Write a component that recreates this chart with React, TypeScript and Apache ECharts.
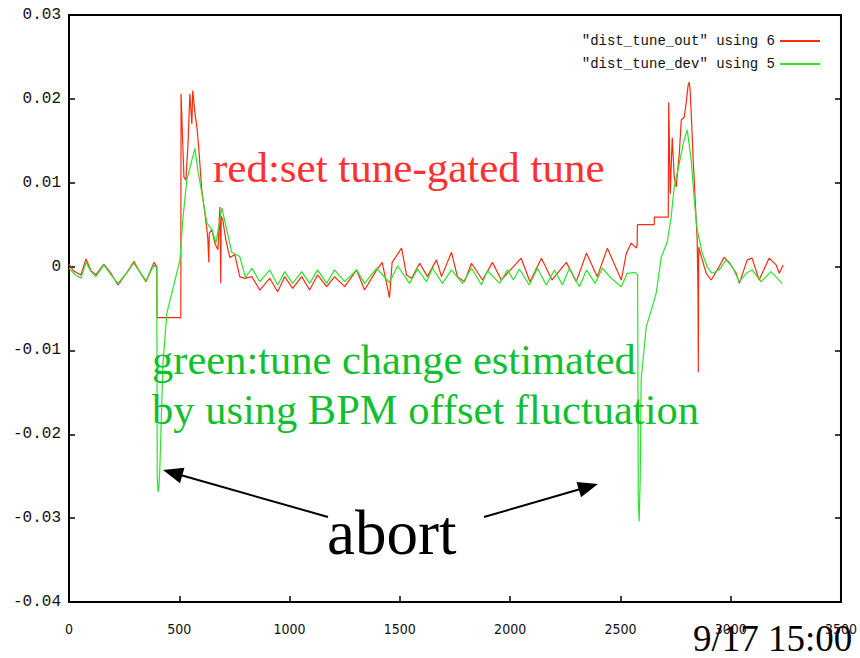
import React, { useEffect, useRef } from "react";
import * as echarts from "echarts";

// dist_tune_out (column 6) — red
const redX = [
  0, 20, 54, 77, 100, 122, 158, 190, 222, 260, 294, 320, 349, 385, 398, 399, 507, 508,
  521, 530, 539, 548, 557, 561, 571, 580, 589, 602, 616, 629, 634, 636, 648, 661, 675,
  684, 688, 690, 697, 711, 729, 752, 774, 797, 829, 865, 910, 946, 978, 1014, 1055, 1091,
  1127, 1168, 1204, 1250, 1304, 1340, 1395, 1420, 1453, 1465, 1508, 1530, 1553, 1590,
  1625, 1666, 1689, 1734, 1761, 1793, 1825, 1875, 1920, 1960, 2050, 2090, 2142, 2190,
  2255, 2300, 2346, 2395, 2441, 2504, 2527, 2549, 2572, 2576, 2577, 2653, 2654, 2717,
  2719, 2726, 2735, 2744, 2753, 2767, 2776, 2789, 2798, 2807, 2812, 2816, 2821, 2830,
  2839, 2848, 2852, 2853, 2855, 2871, 2889, 2912, 2948, 2970, 2993, 3025, 3039, 3075,
  3097, 3129, 3174, 3206, 3220, 3238,
];
const redY = [
  0.0003, -0.0005, -0.001, 0.0009, -0.0005, -0.001, 0.0003, -0.0008, -0.0022, -0.0008,
  0.0006, -0.0006, -0.0018, 0.0005, 0.0, -0.0061, -0.0061, 0.0206,
  0.0107, 0.0103, 0.0143, 0.0206, 0.017, 0.021, 0.0183, 0.0166, 0.0139, 0.0091, 0.0064,
  0.0035, 0.0005, 0.004, 0.0044, 0.0028, 0.002,
  0.0071, -0.002, 0.006, 0.0056, 0.0032, 0.0011, 0.0014, -0.0012, -0.0014, -0.0012,
  -0.0028, -0.0014, -0.003, -0.0012, -0.0026, -0.0012, -0.0028,
  -0.001, -0.0024, -0.0012, -0.0024, -0.0004, -0.0028, -0.0004, 0.0005, -0.0037, 0.0005,
  0.0022, -0.001, -0.0014, 0.0004,
  -0.0012, 0.0008, -0.0012, 0.0017, -0.0012, -0.0018, 0.0004, -0.0016, 0.0005, -0.0016,
  0.001, -0.0018, 0.001, -0.0016,
  0.0005, -0.0018, 0.0016, -0.0012, 0.0022, -0.0016, 0.0016, 0.0028, 0.0022, 0.0026,
  0.005, 0.005, 0.0059, 0.0059,
  0.0196, 0.0087, 0.0154, 0.0107, 0.0095, 0.0135, 0.0175, 0.0178, 0.0195, 0.0216, 0.022,
  0.0211, 0.0183, 0.0127,
  0.0079, 0.0032, -0.0036, -0.0126, 0.0023, 0.0008, -0.0008, -0.0016, 0.0, 0.0011,
  0.0005, -0.0008, -0.002, 0.0008,
  0.001, -0.0016, 0.001, 0.0002, -0.0008, 0.0002,
];

// dist_tune_dev (column 5) — green
const greenX = [
  0, 30, 54, 77, 100, 122, 158, 190, 222, 260, 294, 320, 349, 385, 398, 400, 404, 408,
  412, 426, 444, 466, 503, 516, 534, 557, 571, 584, 602, 625, 648, 666, 693, 715, 738,
  774, 800, 829, 865, 910, 946, 978, 1014, 1055, 1091, 1127, 1168, 1204, 1250, 1304,
  1340, 1395, 1453, 1490, 1544, 1580, 1621, 1648, 1693, 1734, 1784, 1825, 1870, 1897,
  1952, 1988, 2015, 2042, 2087, 2124, 2164, 2201, 2237, 2269, 2314, 2346, 2386, 2418,
  2459, 2504, 2531, 2567, 2578, 2581, 2585, 2590, 2594, 2617, 2640, 2662, 2685, 2712,
  2730, 2744, 2767, 2785, 2803, 2821, 2835, 2848, 2871, 2893, 2916, 2948, 2979, 3007,
  3039, 3070, 3097, 3138, 3183, 3233,
];
const greenY = [
  -0.0002, -0.001, -0.0014, 0.0005, -0.0006, -0.0012, 0.0002, -0.001, -0.002, -0.0008,
  0.0004, -0.0006, -0.0017, 0.0002, -0.0002, -0.025, -0.0269, -0.0262,
  -0.024, -0.0115, -0.0055, -0.0032, 0.0008, 0.0056, 0.0103, 0.0127, 0.0141, 0.0115,
  0.0088, 0.0052, 0.0044, 0.0028, 0.007, 0.0044, 0.0017,
  0.0012, -0.0013, -0.0002, -0.0018, -0.0004, -0.0022, -0.0006, -0.002, -0.0006, -0.002,
  -0.0004, -0.002, -0.0004, -0.0018, -0.0004,
  -0.002, -0.0002, -0.0019, 0.0001, -0.002, -0.0003, -0.0018, -0.0002, -0.002, -0.0004,
  -0.002, -0.0002, -0.0022, -0.0005,
  -0.002, -0.0004, -0.0016, -0.0003, -0.0022, -0.0002, -0.0022, -0.0004, -0.0022,
  -0.0002, -0.0024, -0.0004, -0.002, -0.0002,
  -0.0014, -0.0024, -0.0008, -0.0007, -0.001, -0.028, -0.0304, -0.025, -0.0135, -0.0072,
  -0.0052, -0.0032, 0.0011, 0.0029,
  0.0059, 0.0095, 0.0123, 0.0147, 0.0163, 0.0127, 0.0079, 0.0044, 0.0016, 0.0, -0.0008,
  -0.0004, 0.0008, 0.0,
  -0.0018, -0.0008, -0.0004, -0.0018, -0.0006, -0.002,
];

const seriesNames = ['"dist_tune_out" using 6', '"dist_tune_dev" using 5'];

const noteRed = "red:set tune-gated tune";
const noteGreen1 = "green:tune change estimated";
const noteGreen2 = "by using BPM offset fluctuation";
const noteAbort = "abort";
const noteStamp = "9/17 15:00";

const RED = "#ff2a12";
const GREEN = "#2ae62a";
const SERIF = "'Liberation Serif', 'DejaVu Serif', serif";
const MONO = "'Liberation Mono', 'DejaVu Sans Mono', monospace";

function pairs(xs: number[], ys: number[]) {
  return xs.map((x, i) => [x, ys[i]]);
}

function arrowHead(tip: number[], from: number[], len: number, half: number) {
  const dx = tip[0] - from[0];
  const dy = tip[1] - from[1];
  const d = Math.sqrt(dx * dx + dy * dy);
  const ux = dx / d;
  const uy = dy / d;
  const bx = tip[0] - ux * len;
  const by = tip[1] - uy * len;
  return [
    [tip[0], tip[1]],
    [bx - uy * half, by + ux * half],
    [bx + uy * half, by - ux * half],
  ];
}

export default function App() {
  const ref = useRef<HTMLDivElement>(null);
  useEffect(() => {
    if (!ref.current) return;
    const chart = echarts.init(ref.current, null, { renderer: "svg" });
    const yFmt = (v: number) => (Math.abs(v) < 1e-9 ? "0" : v.toFixed(2));
    const xFmt = (v: number) => String(Math.round(v));
    const leftTail = [328, 517];
    const leftTip = [163, 470];
    const rightTail = [484, 517];
    const rightTip = [598, 484];
    const tick = { show: true, inside: true, length: 6, lineStyle: { color: "#000", width: 1.5 } };
    chart.setOption({
      animation: false,
      backgroundColor: "#ffffff",
      grid: {
        left: 69,
        right: 18,
        top: 15,
        bottom: 56,
        show: true,
        borderColor: "#000",
        borderWidth: 2,
        backgroundColor: "transparent",
      },
      legend: {
        data: seriesNames,
        orient: "vertical",
        right: 35,
        top: 29,
        align: "right",
        icon: "rect",
        itemWidth: 40,
        itemHeight: 2,
        itemGap: 9,
        textStyle: { fontFamily: MONO, fontSize: 14, color: "#111" },
      },
      xAxis: {
        type: "value",
        min: 0,
        max: 3500,
        interval: 500,
        axisLine: { show: false, onZero: false },
        axisTick: tick,
        splitLine: { show: false },
        axisLabel: {
          margin: 20,
          fontFamily: "'Liberation Sans Narrow', 'DejaVu Sans Condensed', 'Liberation Sans', sans-serif",
          fontSize: 14,
          color: "#111",
          formatter: xFmt,
        },
      },
      yAxis: [
        {
          type: "value",
          min: -0.04,
          max: 0.03,
          interval: 0.01,
          axisLine: { show: false, onZero: false },
          axisTick: tick,
          splitLine: { show: false },
          axisLabel: { margin: 8, fontFamily: MONO, fontSize: 16, color: "#111", formatter: yFmt },
        },
        {
          type: "value",
          position: "right",
          min: -0.04,
          max: 0.03,
          interval: 0.01,
          axisLine: { show: false, onZero: false },
          axisTick: tick,
          splitLine: { show: false },
          axisLabel: { show: false },
        },
      ],
      series: [
        {
          name: seriesNames[0],
          type: "line",
          data: pairs(redX, redY),
          showSymbol: false,
          symbol: "none",
          color: RED,
          lineStyle: { width: 1.2, color: RED },
          z: 2,
        },
        {
          name: seriesNames[1],
          type: "line",
          data: pairs(greenX, greenY),
          showSymbol: false,
          symbol: "none",
          color: GREEN,
          lineStyle: { width: 1.2, color: GREEN },
          z: 3,
        },
      ],
      graphic: [
        {
          type: "text",
          left: 213,
          top: 146,
          z: 10,
          style: { text: noteRed, fill: "#ff3030", font: `43px ${SERIF}` },
        },
        {
          type: "text",
          left: 152,
          top: 338,
          z: 10,
          style: { text: noteGreen1, fill: "#12bf2e", font: `42.5px ${SERIF}` },
        },
        {
          type: "text",
          left: 152,
          top: 388,
          z: 10,
          style: { text: noteGreen2, fill: "#12bf2e", font: `42.5px ${SERIF}` },
        },
        {
          type: "text",
          left: 327,
          top: 501,
          z: 10,
          style: { text: noteAbort, fill: "#000", font: `63px ${SERIF}` },
        },
        {
          type: "text",
          left: 693,
          top: 620,
          z: 10,
          style: { text: noteStamp, fill: "#000", font: `37px ${SERIF}` },
        },
        {
          type: "line",
          z: 10,
          shape: { x1: leftTail[0], y1: leftTail[1], x2: leftTip[0] + 14, y2: leftTip[1] + 4 },
          style: { stroke: "#000", lineWidth: 2 },
        },
        {
          type: "polygon",
          z: 10,
          shape: { points: arrowHead(leftTip, leftTail, 20, 8) },
          style: { fill: "#000" },
        },
        {
          type: "line",
          z: 10,
          shape: { x1: rightTail[0], y1: rightTail[1], x2: rightTip[0] - 14, y2: rightTip[1] + 4 },
          style: { stroke: "#000", lineWidth: 2 },
        },
        {
          type: "polygon",
          z: 10,
          shape: { points: arrowHead(rightTip, rightTail, 20, 8) },
          style: { fill: "#000" },
        },
      ],
    });
    return () => chart.dispose();
  }, []);
  return (
    <div
      ref={ref}
      style={{ width: 860, height: 658, position: "absolute", left: 0, top: 0, background: "#fff" }}
    />
  );
}
